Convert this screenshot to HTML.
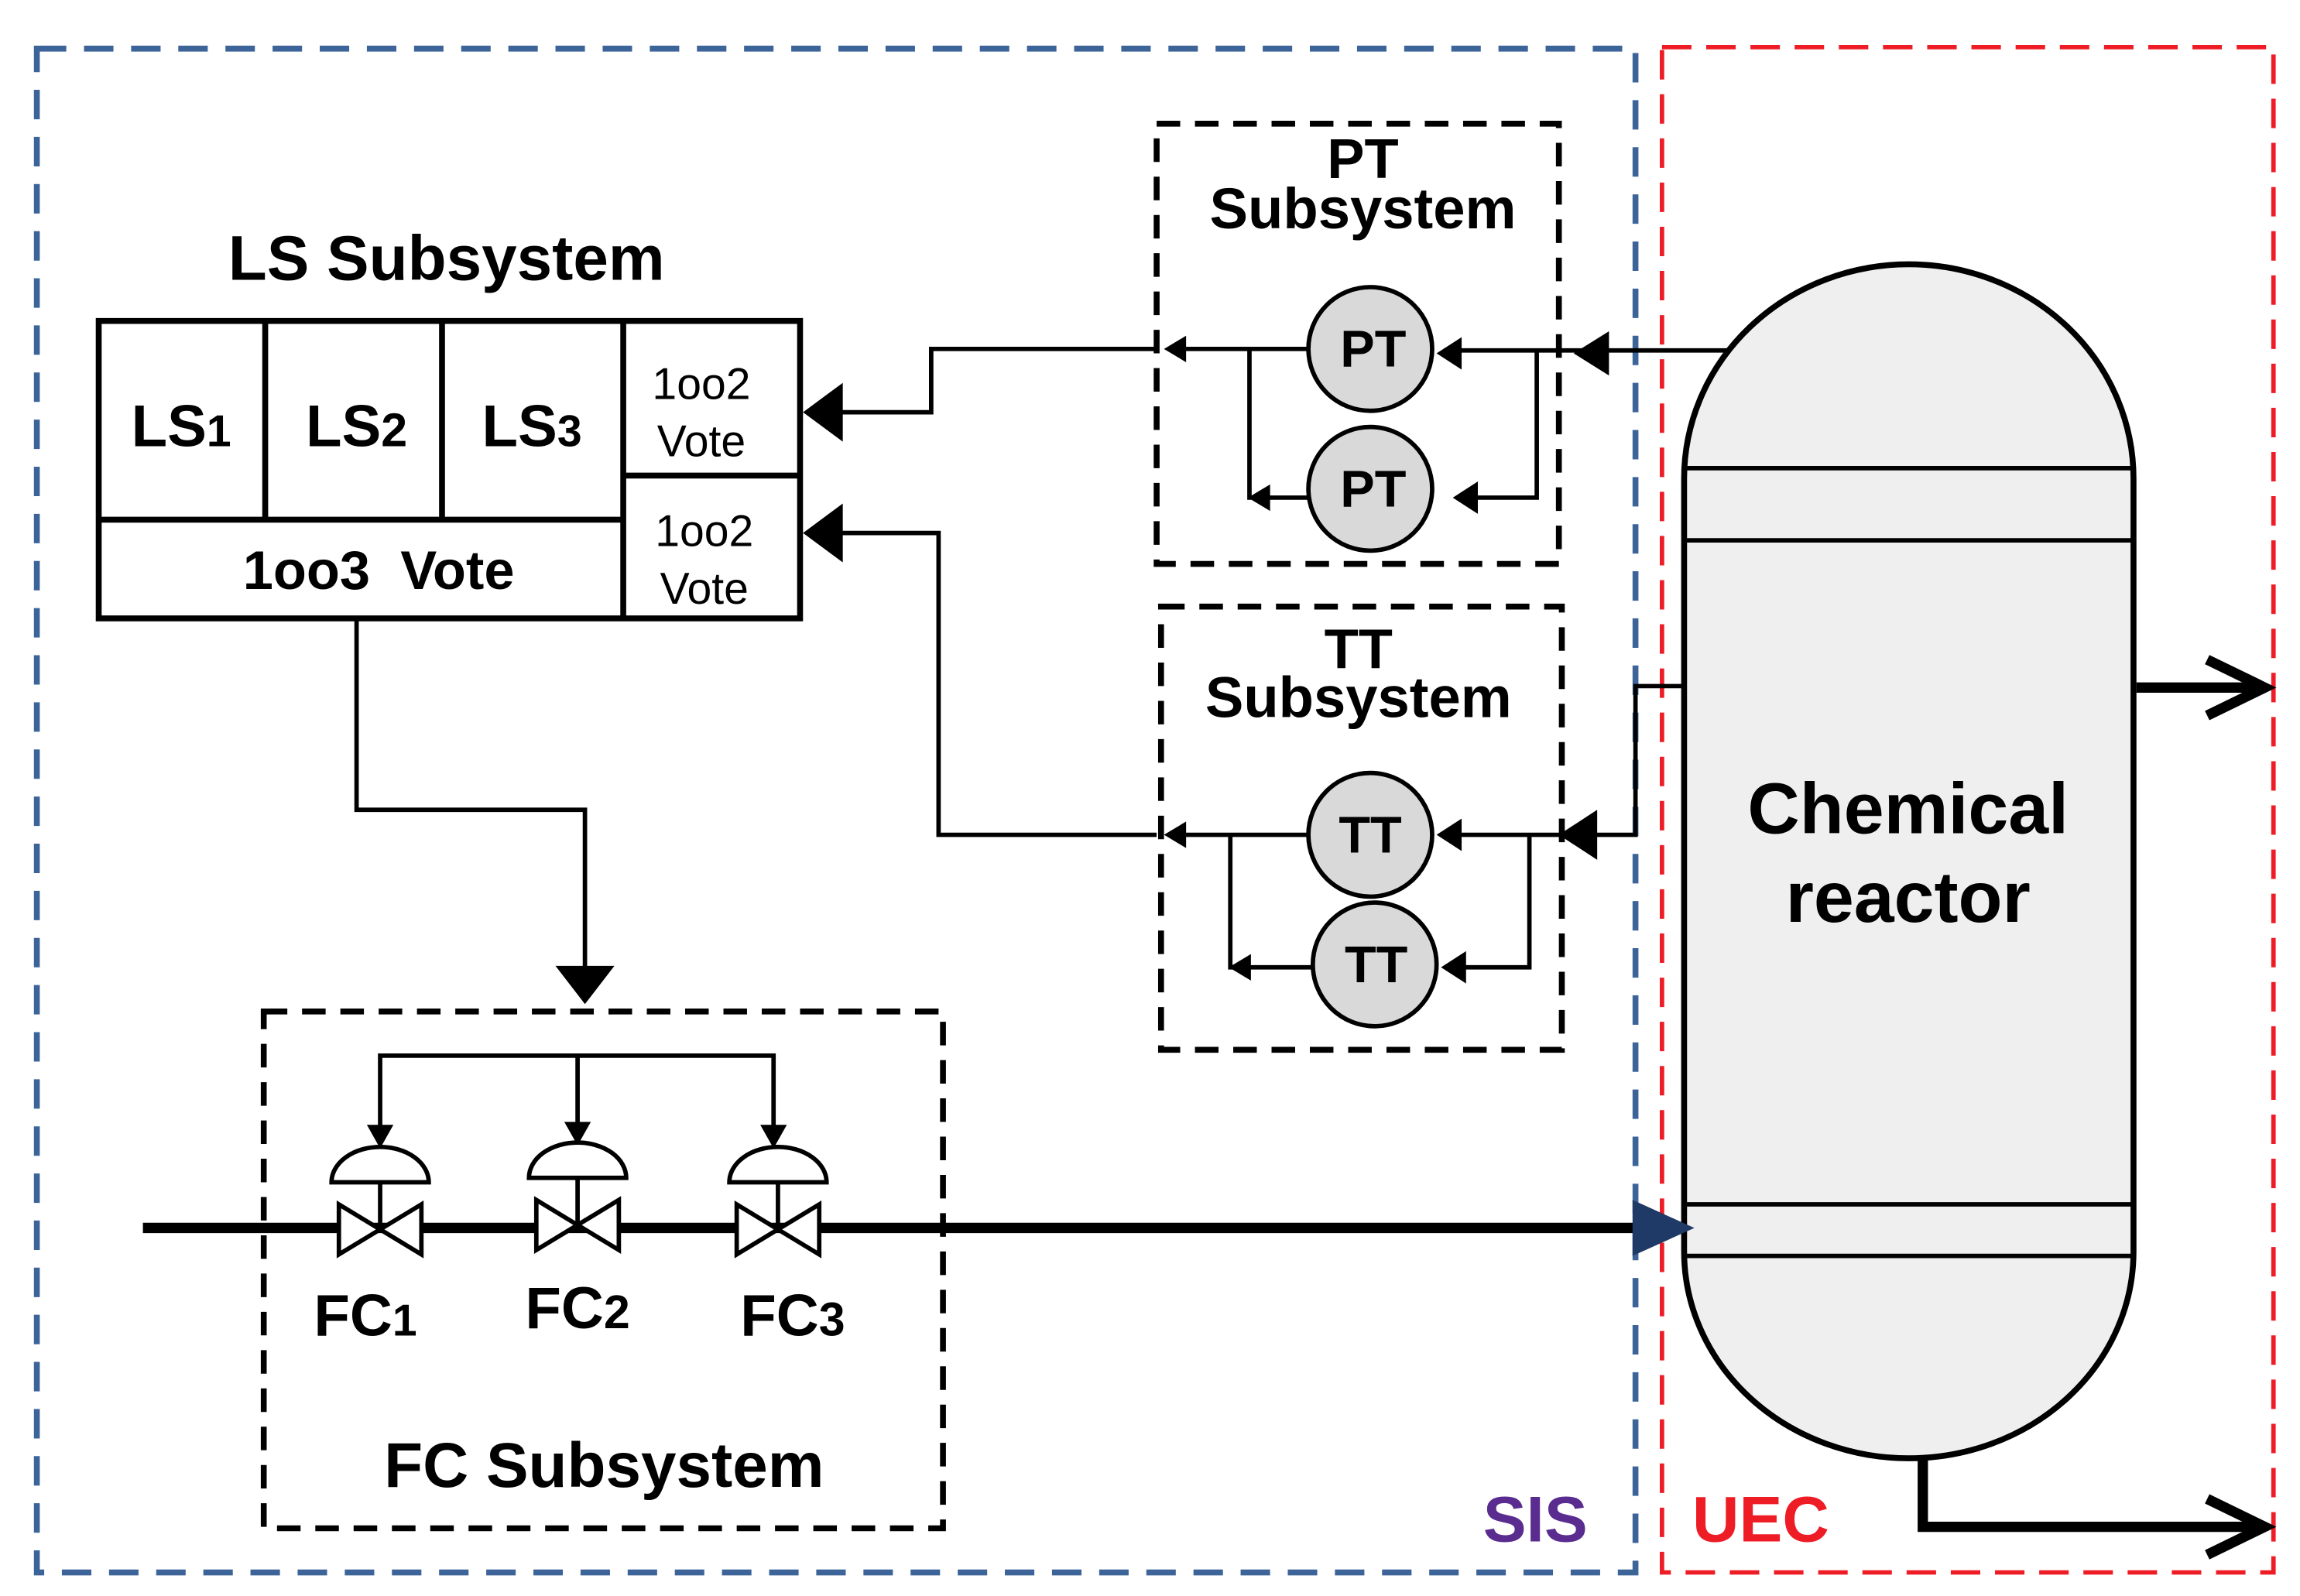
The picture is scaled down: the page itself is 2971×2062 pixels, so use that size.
<!DOCTYPE html>
<html><head><meta charset="utf-8"><style>html,body{margin:0;padding:0;background:#fff}svg{display:block}</style></head>
<body>
<svg width="2971" height="2062" viewBox="0 0 1561 1084" preserveAspectRatio="none" xmlns="http://www.w3.org/2000/svg" font-family="Liberation Sans, Arial, sans-serif">
<rect x="0" y="0" width="1561" height="1084" fill="#fff"/>
<!-- SIS / UEC borders -->
<rect x="25" y="33" width="1085" height="1035" fill="none" stroke="#3d6499" stroke-width="4" stroke-dasharray="20,12"/>
<rect x="1128" y="32" width="415" height="1036" fill="none" stroke="#ee1c25" stroke-width="3" stroke-dasharray="20,10"/>

<!-- reactor -->
<path d="M1143,325 A152,145 0 0 1 1448,325 L1448,850 A152,140 0 0 1 1143,850 Z" fill="#efefef" stroke="#000" stroke-width="4"/>
<g stroke="#000" stroke-width="3"><line x1="1143" y1="318" x2="1448" y2="318"/><line x1="1143" y1="367" x2="1448" y2="367"/><line x1="1143" y1="818" x2="1448" y2="818"/><line x1="1143" y1="853" x2="1448" y2="853"/></g>
<text x="1295" y="566" font-size="49" font-weight="bold" text-anchor="middle">Chemical</text>
<text x="1295" y="626" font-size="49" font-weight="bold" text-anchor="middle">reactor</text>
<g stroke="#000" stroke-width="7" fill="none">
<line x1="1450" y1="467" x2="1535" y2="467"/><polyline points="1498,448 1537,467 1498,486"/>
<polyline points="1305,992 1305,1037 1535,1037"/><polyline points="1498,1018 1537,1037 1498,1056"/>
</g>

<!-- LS subsystem -->
<text x="303" y="190" font-size="43" font-weight="bold" text-anchor="middle">LS Subsystem</text>
<g stroke="#000" stroke-width="4" fill="none">
<rect x="67" y="218" width="476" height="202"/>
<line x1="180" y1="218" x2="180" y2="353"/><line x1="300" y1="218" x2="300" y2="353"/>
<line x1="423" y1="218" x2="423" y2="420"/><line x1="67" y1="353" x2="423" y2="353"/>
<line x1="423" y1="323" x2="543" y2="323"/>
</g>
<g font-size="40" font-weight="bold" text-anchor="middle">
<text x="123" y="303">LS<tspan font-size="30">1</tspan></text>
<text x="242" y="303">LS<tspan font-size="32">2</tspan></text>
<text x="361" y="303">LS<tspan font-size="30">3</tspan></text>
<text x="257" y="400" font-size="37" xml:space="preserve">1oo3  Vote</text>
</g>
<g font-size="30" text-anchor="middle">
<text x="476" y="271">1oo2</text><text x="476" y="310">Vote</text>
<text x="478" y="371">1oo2</text><text x="478" y="410">Vote</text>
</g>

<!-- connectors to LS -->
<g stroke="#000" stroke-width="3" fill="none">
<polyline points="785,237 632,237 632,280 560,280"/>
<polyline points="785,567 637,567 637,362 560,362"/>
<polyline points="242,420 242,550 397,550 397,665"/>
</g>
<path d="M545,280 L572,260 L572,300Z"/><path d="M545,362 L572,342 L572,382Z"/>
<path d="M397,682 L377,656 L417,656Z"/>

<!-- PT subsystem -->
<rect x="785" y="84" width="273" height="299" fill="none" stroke="#000" stroke-width="4" stroke-dasharray="16,10"/>
<text x="925" y="121" font-size="38" font-weight="bold" text-anchor="middle">PT</text>
<text x="925" y="155" font-size="39" font-weight="bold" text-anchor="middle">Subsystem</text>
<g stroke="#000" stroke-width="3" fill="none">
<polyline points="1172,238 980,238"/>
<polyline points="1043,238 1043,338 992,338"/>
<polyline points="888,237 795,237"/>
<polyline points="848,237 848,338 888,338"/>
</g>
<path d="M1068,240 L1092,225 L1092,255Z"/><path d="M975,240 L992,229 L992,251Z"/><path d="M986,338 L1003,327 L1003,349Z"/>
<path d="M790,237 L805,228 L805,246Z"/><path d="M847,338 L862,329 L862,347Z"/>
<g fill="#d9d9d9" stroke="#000" stroke-width="3"><circle cx="930" cy="237" r="42"/><circle cx="930" cy="332" r="42"/></g>
<g font-size="35" font-weight="bold" text-anchor="middle"><text x="932" y="249">PT</text><text x="932" y="344">PT</text></g>

<!-- TT subsystem -->
<rect x="788" y="412" width="272" height="301" fill="none" stroke="#000" stroke-width="4" stroke-dasharray="16,10"/>
<text x="922" y="454" font-size="38" font-weight="bold" text-anchor="middle">TT</text>
<text x="922" y="487" font-size="39" font-weight="bold" text-anchor="middle">Subsystem</text>
<g stroke="#000" stroke-width="3" fill="none">
<polyline points="1143,466 1110,466 1110,567 980,567"/>
<polyline points="1038,567 1038,657 992,657"/>
<polyline points="888,567 795,567"/>
<polyline points="835,567 835,657 890,657"/>
</g>
<path d="M1058,567 L1084,550 L1084,584Z"/><path d="M975,567 L992,556 L992,578Z"/><path d="M978,657 L995,646 L995,668Z"/>
<path d="M790,567 L805,558 L805,576Z"/><path d="M834,657 L849,648 L849,666Z"/>
<g fill="#d9d9d9" stroke="#000" stroke-width="3"><circle cx="930" cy="567" r="42"/><circle cx="933" cy="655" r="42"/></g>
<g font-size="35" font-weight="bold" text-anchor="middle"><text x="930" y="579">TT</text><text x="934" y="667">TT</text></g>

<!-- FC subsystem -->
<rect x="179" y="687" width="461" height="351" fill="none" stroke="#000" stroke-width="4" stroke-dasharray="16,10"/>
<text x="410" y="1010" font-size="43" font-weight="bold" text-anchor="middle">FC Subsystem</text>
<line x1="97" y1="834" x2="1130" y2="834" stroke="#000" stroke-width="7"/>
<path d="M1150,834 L1108,815 L1108,853Z" fill="#1f3a66"/>
<g stroke="#000" stroke-width="3" fill="none">
<polyline points="258,768 258,717 525,717 525,768"/>
<line x1="392" y1="717" x2="392" y2="768"/>
</g>
<path d="M258,780 L249,764 L267,764Z"/><path d="M392,778 L383,762 L401,762Z"/><path d="M525,780 L516,764 L534,764Z"/>
<g stroke="#000" stroke-width="3" fill="#fff">
<g transform="translate(258,0)"><path d="M-33,803 A33,24 0 0 1 33,803 Z"/><line x1="0" y1="803" x2="0" y2="834"/><path d="M-28,818 L28,852 L28,818 L-28,852 Z"/></g>
<g transform="translate(392,-3)"><path d="M-33,803 A33,24 0 0 1 33,803 Z"/><line x1="0" y1="803" x2="0" y2="834"/><path d="M-28,818 L28,852 L28,818 L-28,852 Z"/></g>
<g transform="translate(528,0)"><path d="M-33,803 A33,24 0 0 1 33,803 Z"/><line x1="0" y1="803" x2="0" y2="834"/><path d="M-28,818 L28,852 L28,818 L-28,852 Z"/></g>
</g>
<g font-size="40" font-weight="bold" text-anchor="middle">
<text x="248" y="907">FC<tspan font-size="30">1</tspan></text>
<text x="392" y="902">FC<tspan font-size="32">2</tspan></text>
<text x="538" y="907">FC<tspan font-size="32">3</tspan></text>
</g>

<text x="1042" y="1047" font-size="44" font-weight="bold" fill="#5b2c8f" text-anchor="middle">SIS</text>
<text x="1195" y="1047" font-size="44" font-weight="bold" fill="#ee1c25" text-anchor="middle">UEC</text>
</svg>
</body></html>
